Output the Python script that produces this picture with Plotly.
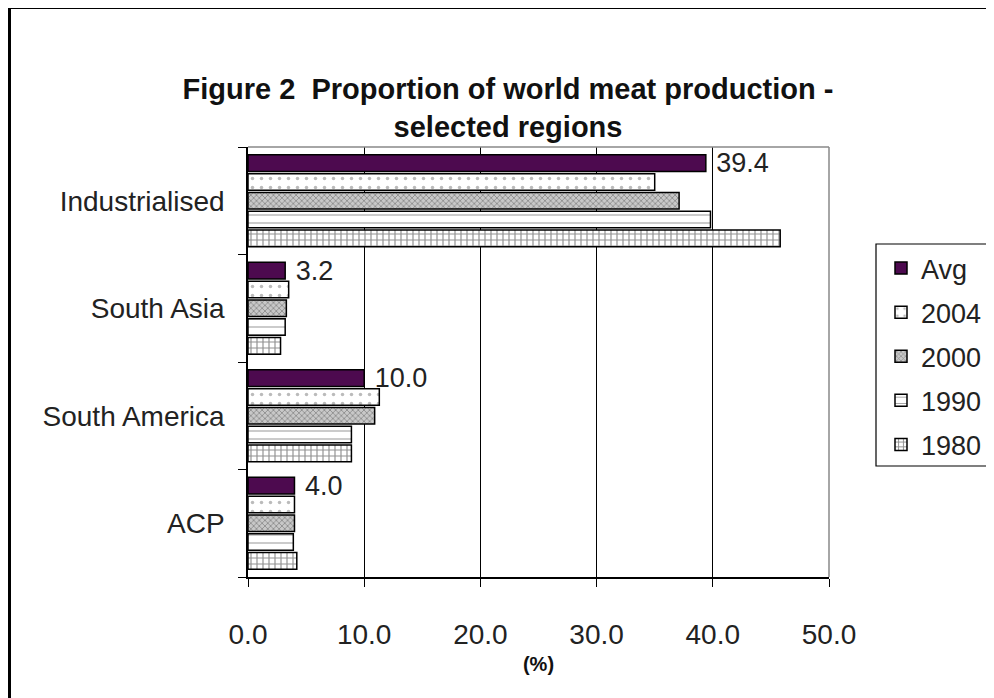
import plotly.graph_objects as go

categories = ["Industrialised", "South Asia", "South America", "ACP"]
series_names = ["Avg", "2004", "2000", "1990", "1980"]
avg = [39.4, 3.2, 10.0, 4.0]
y2004 = [35.0, 3.5, 11.3, 4.0]
y2000 = [37.1, 3.3, 10.9, 4.0]
y1990 = [39.8, 3.2, 8.9, 3.9]
y1980 = [45.8, 2.8, 8.9, 4.2]
x_ticks = [0, 10, 20, 30, 40, 50]

values = {"Avg": avg, "2004": y2004, "2000": y2000, "1990": y1990, "1980": y1980}
styles = {
    "Avg": dict(color="#4d0a4f", pattern=dict(shape="")),
    "2004": dict(color="white", pattern=dict(shape=".", fgcolor="#777777", bgcolor="white", size=9, solidity=0.12)),
    "2000": dict(color="white", pattern=dict(shape="x", fgcolor="#555555", bgcolor="#c8c8c8", size=4, solidity=0.4)),
    "1990": dict(color="white", pattern=dict(shape="-", fgcolor="#222222", bgcolor="white", size=8, solidity=0.12)),
    "1980": dict(color="white", pattern=dict(shape="+", fgcolor="#222222", bgcolor="white", size=6, solidity=0.35)),
}

FONT = "Liberation Sans, Arial, sans-serif"
FS = 28
# page body adds an 8px offset; the figure is placed to compensate
OFF = 8
fig = go.Figure()
for name in reversed(series_names):
    st = styles[name]
    is_avg = name == "Avg"
    fig.add_trace(go.Bar(
        y=categories, x=values[name], name=name, orientation="h",
        legendgroup=name, legendrank=series_names.index(name) + 1,
        marker=dict(color=st["color"], pattern=st["pattern"],
                    line=dict(color="black", width=1.5)),
        texttemplate=" %{x:.1f}" if is_avg else None,
        textposition="outside" if is_avg else "none",
        constraintext="none",
        textfont=dict(size=FS - 1, color="#222222", family=FONT),
        cliponaxis=False,
    ))

W, H = 994 - OFF, 698 - OFF
fig.update_layout(
    width=W, height=H,
    margin=dict(l=248 - OFF, r=W - (829 - OFF), t=147 - OFF, b=H - (577 - OFF),
                autoexpand=False),
    paper_bgcolor="white", plot_bgcolor="white",
    barmode="group", bargap=0.125, bargroupgap=0.12,
    font=dict(family=FONT, size=FS, color="#222222"),
    title=dict(text="<b>Figure 2  Proportion of world meat production -<br>selected regions</b>",
               x=(508 - OFF) / W, xref="container", xanchor="center",
               y=1 - (99 - OFF) / H, yref="container", yanchor="middle",
               font=dict(size=29, color="#111111", family=FONT)),
    legend=dict(x=(881 - 248) / 581, xanchor="left", y=(577 - 244) / 430, yanchor="top",
                traceorder="grouped", tracegroupgap=6,
                borderwidth=0, bgcolor="rgba(0,0,0,0)",
                font=dict(size=FS - 1, color="#222222", family=FONT),
                itemwidth=30),
    showlegend=True,
)
fig.update_xaxes(
    range=[0, 50], tickvals=x_ticks, tickformat=".1f",
    showgrid=True, gridcolor="black", gridwidth=1,
    showline=True, linecolor="black", linewidth=1.5,
    ticks="outside", ticklen=8, tickcolor="black",
    ticklabelstandoff=24,
    zeroline=False,
    title=dict(text="<b>(%)</b>", font=dict(size=20, color="#111111"), standoff=8),
)
fig.update_yaxes(
    categoryorder="array", categoryarray=list(reversed(categories)),
    showline=True, linecolor="black", linewidth=1.5,
    ticks="outside", tickson="boundaries", ticklen=8, tickcolor="black",
    ticklabelstandoff=16, showgrid=False,
)
fig.add_shape(type="line", xref="paper", yref="paper", x0=0, x1=1, y0=1, y1=1,
              line=dict(color="#888888", width=1.5))
fig.add_shape(type="line", xref="paper", yref="paper", x0=1, x1=1, y0=0, y1=1,
              line=dict(color="#888888", width=1.5))
# legend frame
fig.add_shape(type="rect", xref="paper", yref="paper",
              x0=(876 - 248) / 581, x1=(988 - 248) / 581,
              y0=(577 - 466) / 430, y1=(577 - 244) / 430,
              line=dict(color="black", width=1.2), layer="below")
# outer chart frame
fig.add_shape(type="rect", xref="paper", yref="paper",
              x0=(9.5 - 248) / 581, x1=(1010 - 248) / 581,
              y0=(577 - 710) / 430, y1=(577 - 7.5) / 430,
              line=dict(color="black", width=3), layer="above")
fig.write_html("out.html")
